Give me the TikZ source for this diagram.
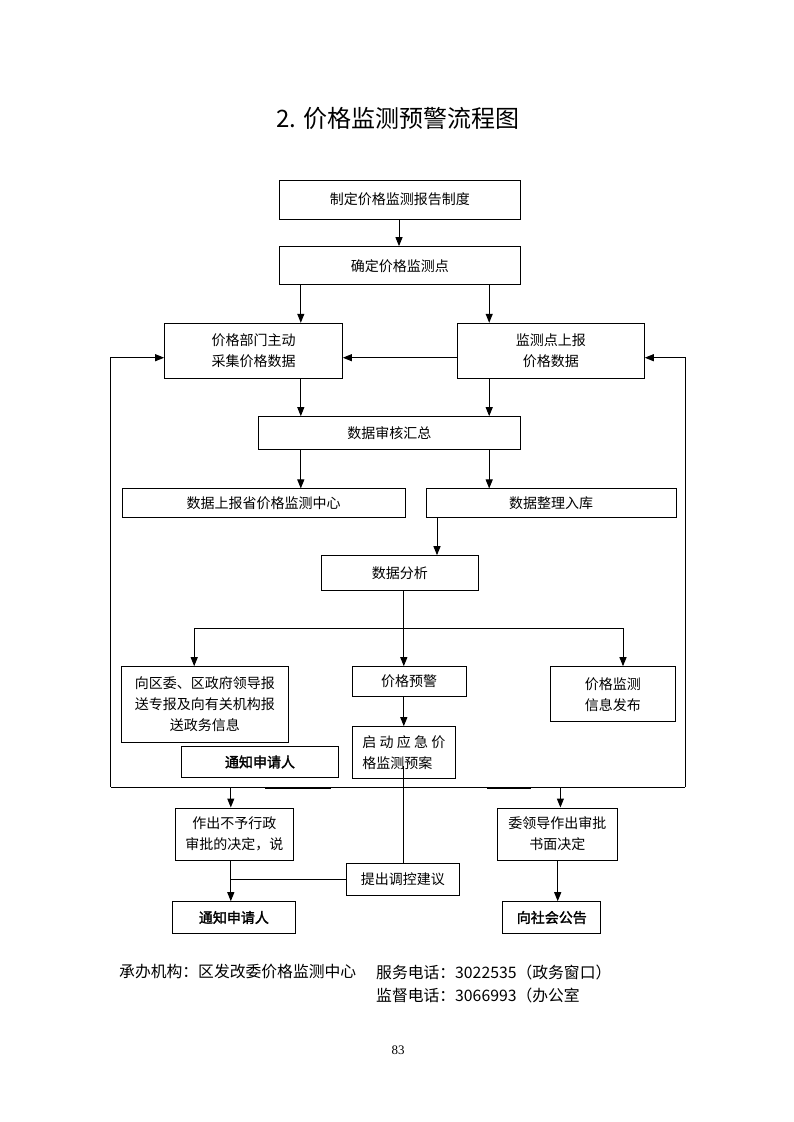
\documentclass[tikz,border=0pt]{standalone}
\usepackage{fontspec}
\setmainfont{Liberation Serif}
\newfontfamily\cjk[AutoFakeBold=2]{Noto Sans CJK SC}
\usetikzlibrary{arrows.meta,calc}
\begin{document}
\begin{tikzpicture}[x=1pt,y=-1pt,
  box/.style={draw,line width=1pt,inner sep=0pt,align=center,font=\cjk\fontsize{14pt}{21pt}\selectfont},
  wh/.style 2 args={minimum width=#1pt,minimum height=#2pt},
  arr/.style={line width=1pt,-{Triangle[length=9pt,width=7pt]}},
  ln/.style={line width=1pt},
  foot/.style={anchor=west,inner sep=0pt,font=\cjk\fontsize{15.8pt}{20pt}\selectfont}]
\fill[white] (0,0) rectangle (793,1122);
\useasboundingbox (0,0) rectangle (793,1122);

\node[font=\cjk\fontsize{24pt}{28pt}\selectfont] (title) at (398,118) {2. 价格监测预警流程图};

\node[box,wh={240.4}{39}] (b1) at (399.8,199.5) {制定价格监测报告制度};
\node[box,wh={240.4}{38.3}] (b2) at (399.8,265.8) {确定价格监测点};
\node[box,wh={177.7}{55}] (b3) at (253.5,350.8) {价格部门主动\\采集价格数据};
\node[box,wh={187}{55}] (b4) at (550.8,350.8) {监测点上报\\价格数据};
\node[box,wh={261.5}{33.3}] (b5) at (389.3,433.3) {数据审核汇总};
\node[box,wh={282.7}{28.7}] (b6) at (263.7,503.3) {数据上报省价格监测中心};
\node[box,wh={250}{28.7}] (b7) at (551,503.3) {数据整理入库};
\node[box,wh={156.5}{35}] (b8) at (399.8,573.2) {数据分析};
\node[box,wh={167.5}{75.6}] (b9) at (204.8,704.5) {向区委、区政府领导报\\送专报及向有关机构报\\送政务信息};
\node[box,wh={114}{30}] (b10) at (409,681.7) {价格预警};
\node[box,wh={125.8}{55}] (b11) at (612.9,694.2) {价格监测\\信息发布};
\node[box,wh={103.8}{51.6},align=left] (b12) at (403.9,752.5) {\makebox[83pt][s]{启\hfill 动\hfill 应\hfill 急\hfill 价}\\格监测预案};
\node[box,wh={157}{30.6},font=\cjk\bfseries\fontsize{14pt}{21pt}\selectfont] (b13) at (260,762) {通知申请人};
\node[box,wh={117.2}{52}] (b14) at (234.4,834) {作出不予行政\\审批的决定，说};
\node[box,wh={120}{52}] (b15) at (557.3,834) {委领导作出审批\\书面决定};
\node[box,wh={113.6}{31.7}] (b16) at (402.8,879.2) {提出调控建议};
\node[box,wh={123.1}{31.6},font=\cjk\bfseries\fontsize{14pt}{21pt}\selectfont] (b17) at (233.9,917.5) {通知申请人};
\node[box,wh={98.1}{31.6},font=\cjk\bfseries\fontsize{14pt}{21pt}\selectfont] (b18) at (551.8,917.5) {向社会公告};

% column coordinates
\coordinate (cL) at (300.8,0);
\coordinate (cR) at (489.2,0);
\coordinate (c1) at (399,0);
\coordinate (c7) at (437,0);
\coordinate (c15) at (557.7,0);
\coordinate (hL) at (194.2,628.3);
\coordinate (hM) at (403.8,628.3);
\coordinate (hR) at (623,628.3);
\coordinate (yA) at (0,357.7);
\coordinate (lL) at (110.8,787);
\coordinate (lR) at (685.4,787);
\coordinate (d1) at (230.8,787);
\coordinate (d2) at (560.4,787);
\coordinate (s12) at (403.8,766);

\draw[arr] (b1.south -| c1) -- (b2.north -| c1);
\draw[arr] (b2.south -| cL) -- (b3.north -| cL);
\draw[arr] (b2.south -| cR) -- (b4.north -| cR);
\draw[arr] (b3.south -| cL) -- (b5.north -| cL);
\draw[arr] (b4.south -| cR) -- (b5.north -| cR);
\draw[arr] (b5.south -| cL) -- (b6.north -| cL);
\draw[arr] (b5.south -| cR) -- (b7.north -| cR);
\draw[arr] (b7.south -| c7) -- (b8.north -| c7);
\draw[ln] (b8.south -| hM) -- (hM);
\draw[ln] (hL) -- (hR);
\draw[arr] (hL) -- (b9.north -| hL);
\draw[arr] (hM) -- (b10.north -| hM);
\draw[arr] (hR) -- (b11.north -| hR);
\draw[arr] (b10.south -| hM) -- (b12.north -| hM);

% feedback loop
\draw[ln] (lL) -- (lR);
\draw[line width=2pt] (265.4,787.5) -- (330.8,787.5);
\draw[line width=2pt] (486.5,787.5) -- (530.8,787.5);
\draw[arr] (lL) -- (lL |- yA) -- (b3.west |- yA);
\draw[arr] (lR) -- (lR |- yA) -- (b4.east |- yA);
\draw[arr] (b4.west |- yA) -- (b3.east |- yA);

% lower part
\draw[arr] (d1) -- (b14.north -| d1);
\draw[arr] (d2) -- (b15.north -| d2);
\draw[ln] (s12) -- (b16.north -| s12);
\draw[ln] (b16.west) -- (b16.west -| d1);
\draw[arr] (b14.south -| d1) -- (b17.north -| d1);
\draw[arr] (b15.south -| c15) -- (b18.north -| c15);

% footer
\node[foot] (f1) at (119,972) {承办机构：区发改委价格监测中心};
\node[foot] (f2) at (376,972) {服务电话：3022535（政务窗口）};
\node[foot] (f3) at (376,995) {监督电话：3066993（办公室};
\node[font=\fontsize{13pt}{15pt}\selectfont] (pg) at (398,1050) {83};
\end{tikzpicture}
\end{document}
